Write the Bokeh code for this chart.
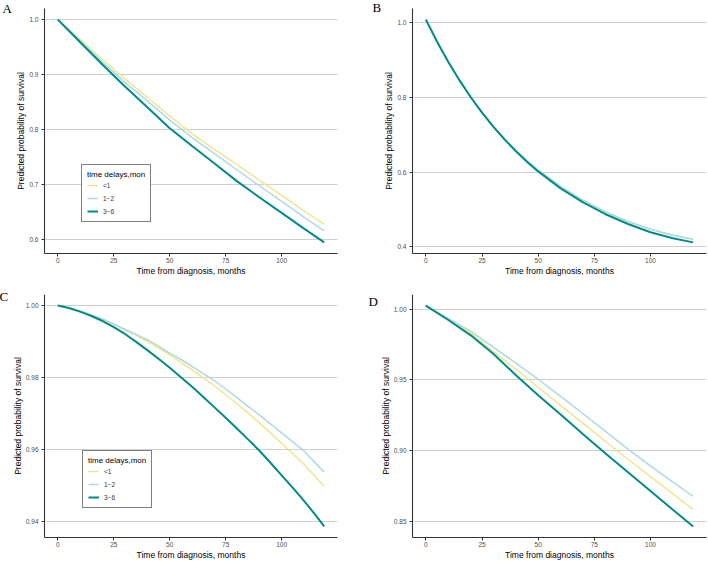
from bokeh.plotting import figure
from bokeh.layouts import gridplot
from bokeh.models import Range1d, FixedTicker, Legend, LegendItem, Label, PrintfTickFormatter
from bokeh.embed import file_html
from bokeh.resources import INLINE

# ---------------- data ----------------
months = [0, 10, 20, 30, 40, 50, 60, 70, 80, 90, 100, 110, 119]
months_b = [0, 5, 10, 15, 20, 25, 30, 35, 40, 45, 50, 60, 70, 80, 90, 100, 110, 119]
months_c = [0, 5, 10, 15, 20, 25, 30, 35, 40, 45, 50, 55, 60, 65, 70, 75, 80, 85, 90, 95, 100, 105, 110, 115, 119]

groups = ["<1", "1\u22122", "3\u22126"]
x_ticks = [0, 25, 50, 75, 100]

a_lt1 = [1.0, 0.964, 0.928, 0.8925, 0.8586, 0.8248, 0.7925, 0.7645, 0.7366, 0.7087, 0.6807, 0.6527, 0.6283]
a_1to2 = [1.0, 0.9614, 0.9228, 0.886, 0.8524, 0.8175, 0.7857, 0.7567, 0.7274, 0.6983, 0.6698, 0.6413, 0.6164]
a_3to6 = [1.0, 0.959, 0.918, 0.8787, 0.8407, 0.8027, 0.7704, 0.7386, 0.7067, 0.6775, 0.649, 0.6205, 0.5955]
a_yticks = [0.6, 0.7, 0.8, 0.9, 1.0]

b_lt1 = [1.009, 0.9497, 0.8955, 0.846, 0.801, 0.760, 0.7228, 0.6893, 0.6585, 0.631, 0.6055, 0.5615, 0.5245, 0.4935, 0.4675, 0.447, 0.4305, 0.4197]
b_1to2 = [1.009, 0.9497, 0.8955, 0.846, 0.801, 0.760, 0.7228, 0.6893, 0.6585, 0.631, 0.6055, 0.5615, 0.5245, 0.4935, 0.4675, 0.447, 0.4305, 0.4197]
b_3to6 = [1.009, 0.9497, 0.8955, 0.846, 0.8009, 0.7597, 0.7221, 0.6878, 0.6565, 0.628, 0.6019, 0.5565, 0.5186, 0.4871, 0.4608, 0.4389, 0.4225, 0.4116]
b_yticks = [0.4, 0.6, 0.8, 1.0]

c_lt1 = [1.0, 0.9992, 0.9982, 0.9972, 0.996, 0.9947, 0.9932, 0.9917, 0.99, 0.9882, 0.9863, 0.9842, 0.9821,
         0.9799, 0.9777, 0.9752, 0.9727, 0.9701, 0.9674, 0.9646, 0.9617, 0.9588, 0.9558, 0.9525, 0.9497]
c_1to2 = [1.0, 0.9993, 0.9984, 0.9974, 0.9963, 0.9949, 0.9934, 0.992, 0.9905, 0.9887, 0.9868, 0.985, 0.9831,
          0.9811, 0.9791, 0.9768, 0.9744, 0.972, 0.9696, 0.9671, 0.9646, 0.9621, 0.9596, 0.9563, 0.9537]
c_3to6 = [1.0, 0.9993, 0.9983, 0.9971, 0.9957, 0.994, 0.9921, 0.9899, 0.9876, 0.9852, 0.9827, 0.9801, 0.9774,
          0.9746, 0.9717, 0.9688, 0.9658, 0.9628, 0.9597, 0.9563, 0.9528, 0.9493, 0.9457, 0.9419, 0.9386]
c_yticks = [0.94, 0.96, 0.98, 1.00]

d_lt1 = [1.0025, 0.9928, 0.983, 0.970, 0.9578, 0.9449, 0.9321, 0.9194, 0.9066, 0.8941, 0.8819, 0.8697, 0.8586]
d_1to2 = [1.0025, 0.9934, 0.9843, 0.9731, 0.962, 0.9505, 0.9385, 0.9262, 0.9138, 0.9013, 0.8894, 0.878, 0.868]
d_3to6 = [1.0025, 0.9923, 0.9815, 0.9685, 0.9535, 0.9393, 0.9256, 0.9118, 0.8981, 0.8849, 0.8717, 0.8585, 0.8467]
d_yticks = [0.85, 0.90, 0.95, 1.00]

# ---------------- style ----------------
colors = ["#F0E68C", "#ADD8E6", "#008B8B"]
line_widths = [1.5, 1.5, 2.0]
SANS = "Liberation Sans"
W, H = 354, 281


def make_panel(letter, t, series, yticks, fmt, borders, letter_pos, legend_loc=None):
    bl, br, bt, bb = borders
    xmax = max(t)
    allv = [v for s in series for v in s]
    lo, hi = min(allv), max(allv)
    pad = 0.05 * (hi - lo)
    x0, x1 = -0.05 * xmax, 1.05 * xmax
    y0, y1 = lo - pad, hi + pad
    p = figure(width=W, height=H, output_backend="svg", toolbar_location=None,
               x_range=Range1d(x0, x1), y_range=Range1d(y0, y1),
               min_border_left=bl, min_border_right=br, min_border_top=bt, min_border_bottom=bb)
    p.outline_line_color = None
    p.background_fill_color = "white"
    p.border_fill_color = "white"
    p.xgrid.visible = False
    p.ygrid.grid_line_color = "#CFCFCF"
    p.ygrid.grid_line_width = 1

    for ax in (p.xaxis[0], p.yaxis[0]):
        ax.axis_line_color = "#333333"
        ax.axis_line_width = 1.1
        ax.major_tick_line_color = "#333333"
        ax.major_tick_out = 3
        ax.major_tick_in = 0
        ax.minor_tick_line_color = None
        ax.major_label_text_font = SANS
        ax.major_label_text_font_size = "6.5px"
        ax.major_label_text_color = "#4D4D4D"
        ax.axis_label_text_font = SANS
        ax.axis_label_text_font_size = "8.5px"
        ax.axis_label_text_font_style = "normal"
        ax.axis_label_text_color = "black"
        ax.axis_label_standoff = 0
    p.yaxis.major_label_standoff = 3
    p.xaxis.major_label_standoff = 1

    p.xaxis.ticker = FixedTicker(ticks=x_ticks)
    p.yaxis.ticker = FixedTicker(ticks=yticks)
    p.yaxis.formatter = PrintfTickFormatter(format=fmt)
    p.xaxis.axis_label = "Time from diagnosis, months"
    p.yaxis.axis_label = "Predicted probability of survival"

    renderers = []
    for s, c, w in zip(series, colors, line_widths):
        r = p.line(t, s, line_color=c, line_width=w)
        renderers.append(r)

    if legend_loc is not None:
        items = [LegendItem(label=g, renderers=[r]) for g, r in zip(groups, renderers)]
        leg = Legend(items=items, title="time delays,mon", location=legend_loc,
                     border_line_color="black", border_line_width=1,
                     background_fill_color="white", background_fill_alpha=1,
                     label_text_font=SANS, label_text_font_size="6.5px",
                     label_text_color="#333333",
                     title_text_font=SANS, title_text_font_size="8px",
                     title_text_font_style="normal", title_text_color="black",
                     glyph_width=11, glyph_height=10, label_height=10, label_standoff=5,
                     spacing=3, padding=5, margin=0, title_standoff=1)
        p.add_layout(leg, "center")

    # panel letter: lives in the left side panel (not clipped to the frame);
    # its baseline height is given in data units of the y scale
    fh = H - bt - bb
    lx, py = letter_pos
    ly = y1 - (py - bt) * (y1 - y0) / fh
    p.add_layout(Label(x=lx, y=ly, x_units="screen", y_units="data", text=letter,
                       text_font="Liberation Serif", text_font_size="13px",
                       text_color="black", text_baseline="alphabetic"), "left")
    return p


pa = make_panel("A", months, [a_lt1, a_1to2, a_3to6], a_yticks, "%.1f",
                (39, 17, 8, 28), (-2, 7.5), legend_loc=(37, 31))
pb = make_panel("B", months_b, [b_lt1, b_1to2, b_3to6], b_yticks, "%.1f",
                (53, 2, 7, 28), (0, 5.5))
pc = make_panel("C", months_c, [c_lt1, c_1to2, c_3to6], c_yticks, "%.2f",
                (43, 17, 13, 22), (-1, 15), legend_loc=(38, 29))
pd = make_panel("D", months, [d_lt1, d_1to2, d_3to6], d_yticks, "%.2f",
                (58, 2, 13, 22), (0, 20.5))

grid = gridplot([[pa, pb], [pc, pd]], toolbar_location=None)

open("out.html", "w").write(file_html(grid, INLINE))
